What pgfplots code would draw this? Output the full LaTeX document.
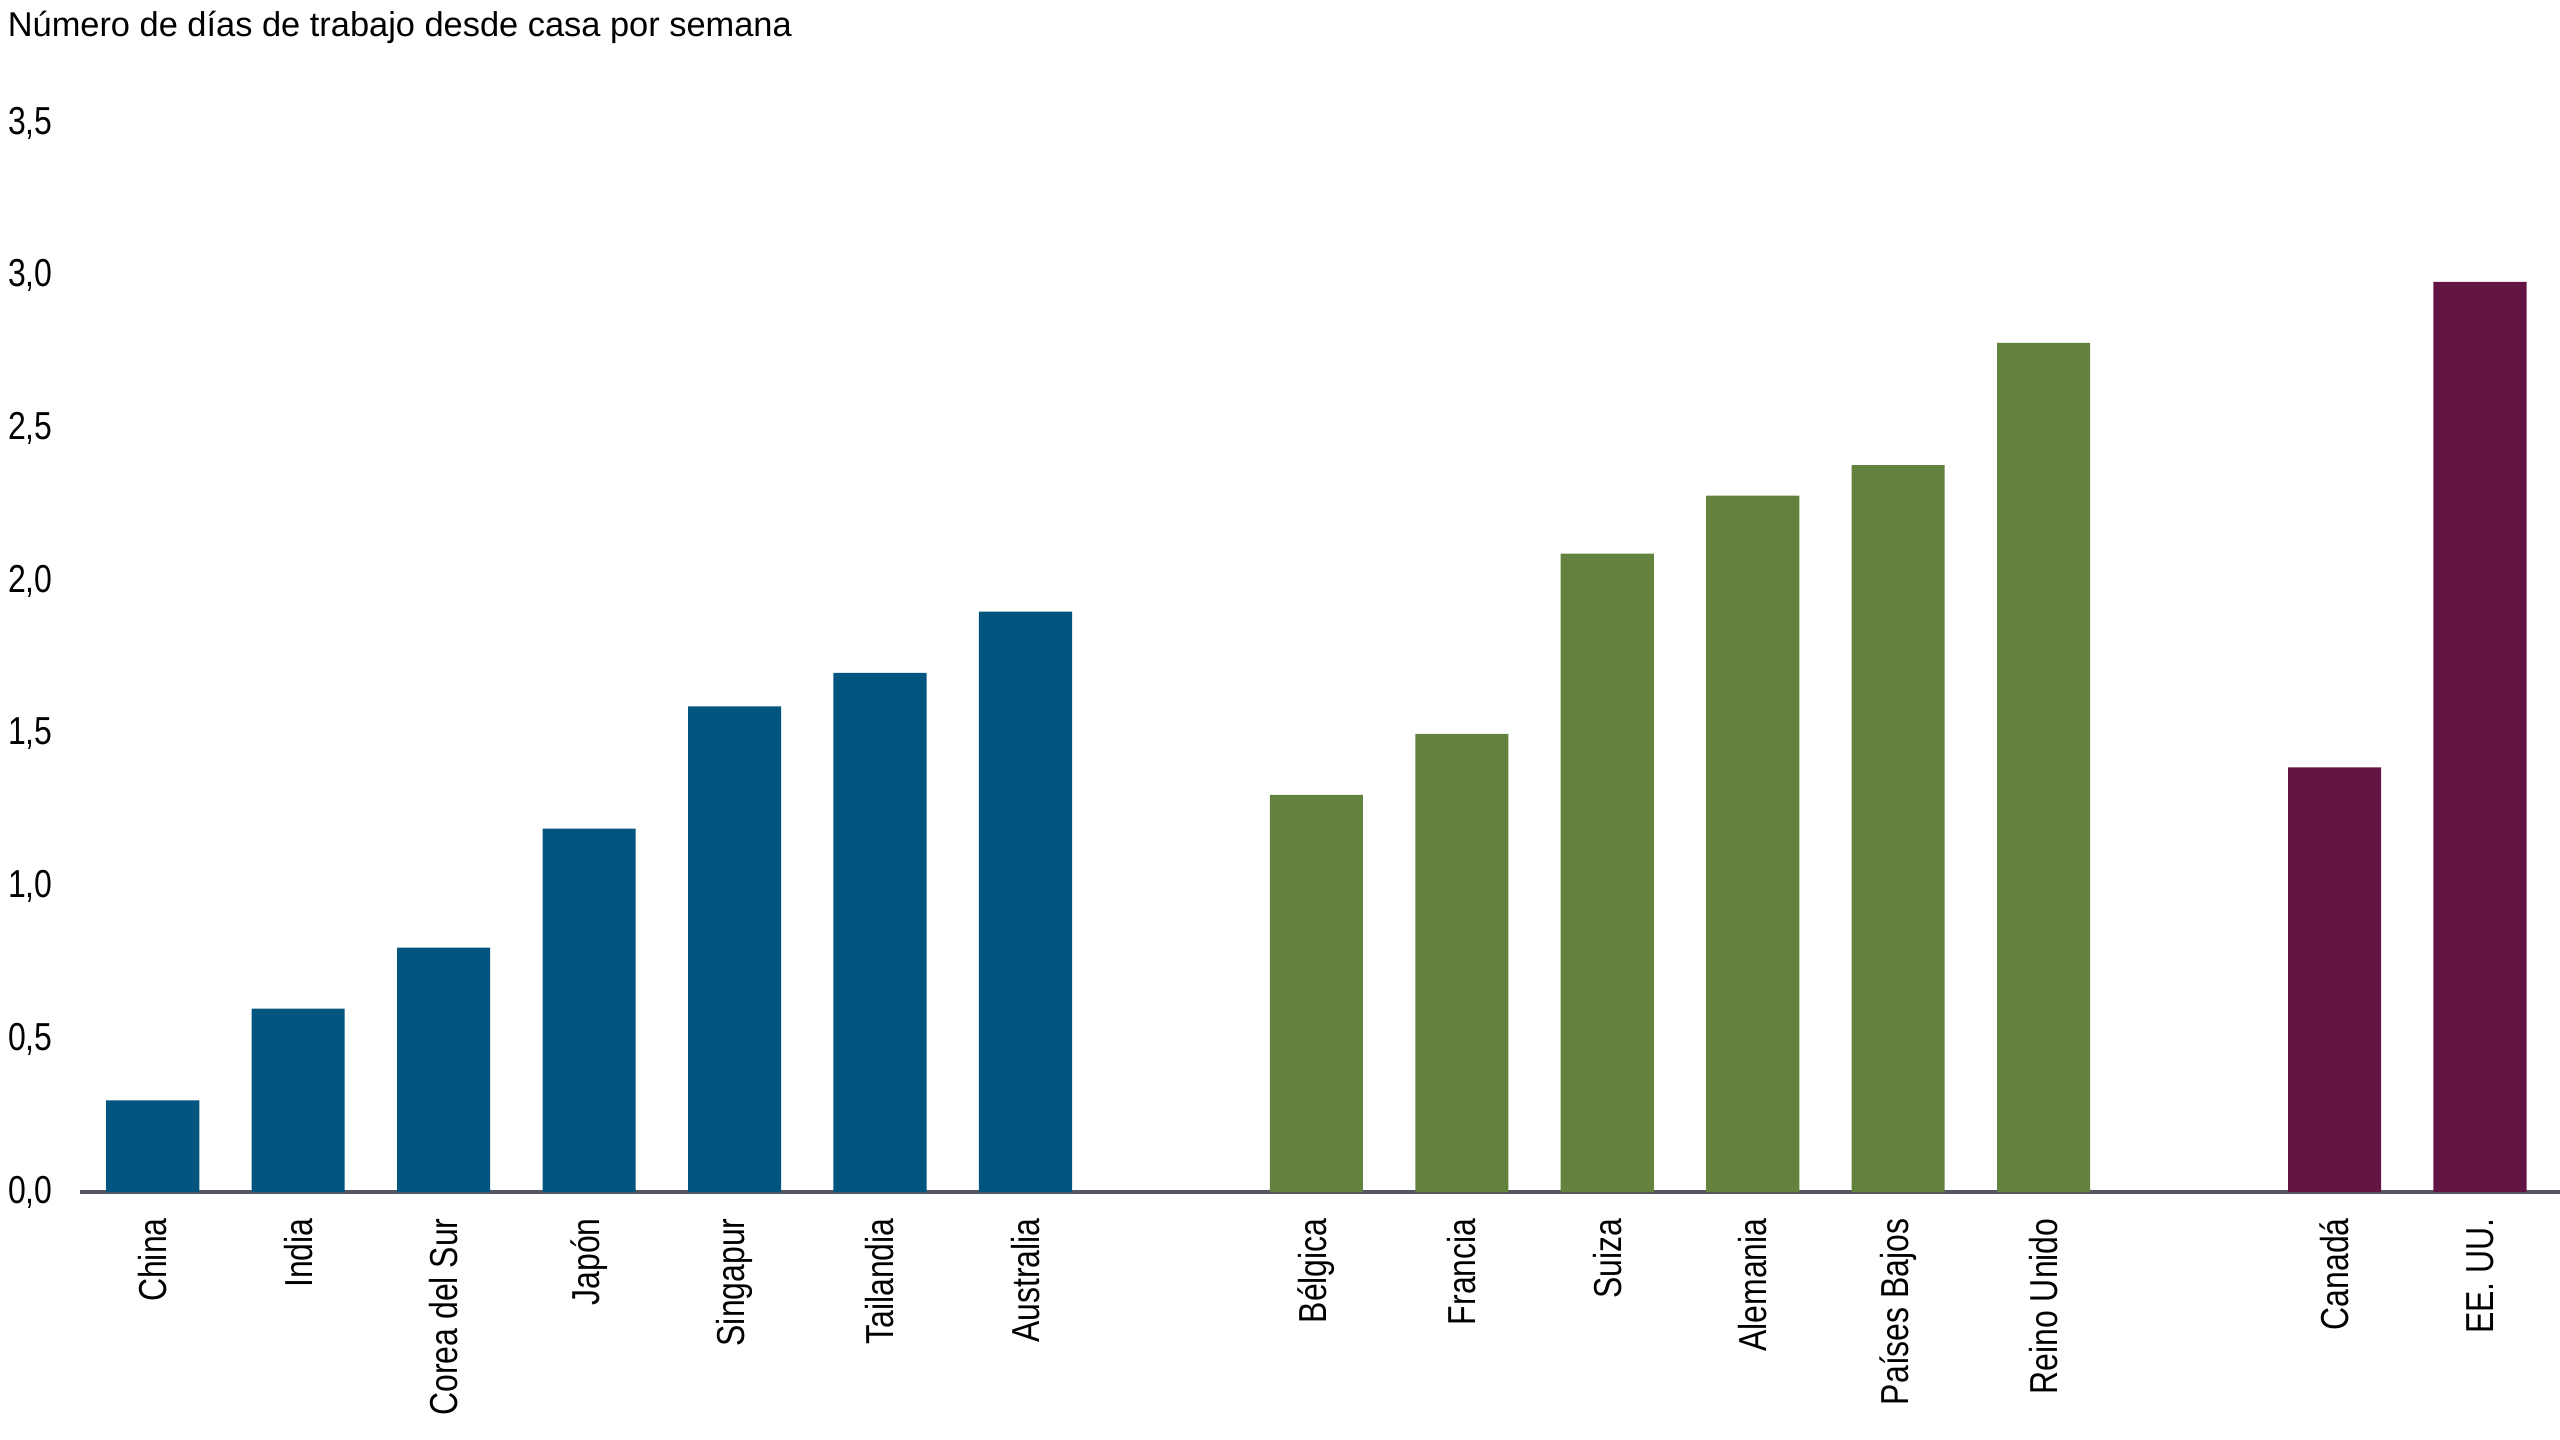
\documentclass[border=0pt]{standalone}
\usepackage{fontspec}
\setmainfont{Liberation Sans}
\newfontfamily\condfont[FakeStretch=0.82]{Liberation Sans}
\usepackage{pgfplots}
\pgfplotsset{compat=1.18}
\usepackage{pgfplotstable}

\definecolor{asiablue}{RGB}{1,85,126}
\definecolor{eurogreen}{RGB}{98,130,62}
\definecolor{amerpurple}{RGB}{98,20,66}
\definecolor{axisgray}{RGB}{83,87,97}

% dias de trabajo desde casa por semana
\pgfplotstableread{
x y
0 0.30
1 0.60
2 0.80
3 1.19
4 1.59
5 1.70
6 1.90
}\tblasia
\pgfplotstableread{
x y
8 1.30
9 1.50
10 2.09
11 2.28
12 2.38
13 2.78
}\tbleuropa
\pgfplotstableread{
x y
15 1.39
16 2.98
}\tblamerica

\begin{document}
\begin{tikzpicture}
\useasboundingbox (-40pt,-124pt) rectangle (1240pt,596pt);
\begin{axis}[
  at={(0pt,0pt)}, anchor=south west,
  scale only axis,
  width=1240pt, height=534.5pt,
  xmin=-0.5, xmax=16.55,
  ymin=0, ymax=3.5,
  axis x line*=bottom,
  axis y line*=left,
  x axis line style={draw=axisgray, line width=1.65pt},
  y axis line style={draw=none},
  major tick length=0pt,
  tick style={draw=none},
  xtick={0,1,2,3,4,5,6,8,9,10,11,12,13,15,16},
  xticklabels={China, India, Corea del Sur, Japón, Singapur, Tailandia, Australia,
    Bélgica, Francia, Suiza, Alemania, Países Bajos, Reino Unido, Canadá, {EE. UU.}},
  ytick={0,0.5,1,1.5,2,2.5,3,3.5},
  yticklabel style={/pgf/number format/use comma, /pgf/number format/fixed,
    /pgf/number format/fixed zerofill, /pgf/number format/precision=1,
    /pgf/number format/assume math mode=true},
  yticklabel style={anchor=east, inner sep=0pt, xshift=-13.5pt,
    font=\condfont\fontsize{19.5}{22}\selectfont},
  xticklabel style={rotate=90, anchor=east, inner sep=0pt,
    font=\condfont\fontsize{19.5}{22}\selectfont},
  xticklabel shift=13pt,
  ybar,
  bar width=0.64,
  every axis plot/.append style={bar shift=0pt, draw=none},
]
\addplot[fill=asiablue] table[x=x, y=y] {\tblasia};
\addplot[fill=eurogreen] table[x=x, y=y] {\tbleuropa};
\addplot[fill=amerpurple] table[x=x, y=y] {\tblamerica};
\end{axis}
\node[anchor=base west, inner sep=0pt, font=\fontsize{17.2}{20}\selectfont]
  at (-36.3pt,577.5pt) {Número de días de trabajo desde casa por semana};
\end{tikzpicture}
\end{document}
